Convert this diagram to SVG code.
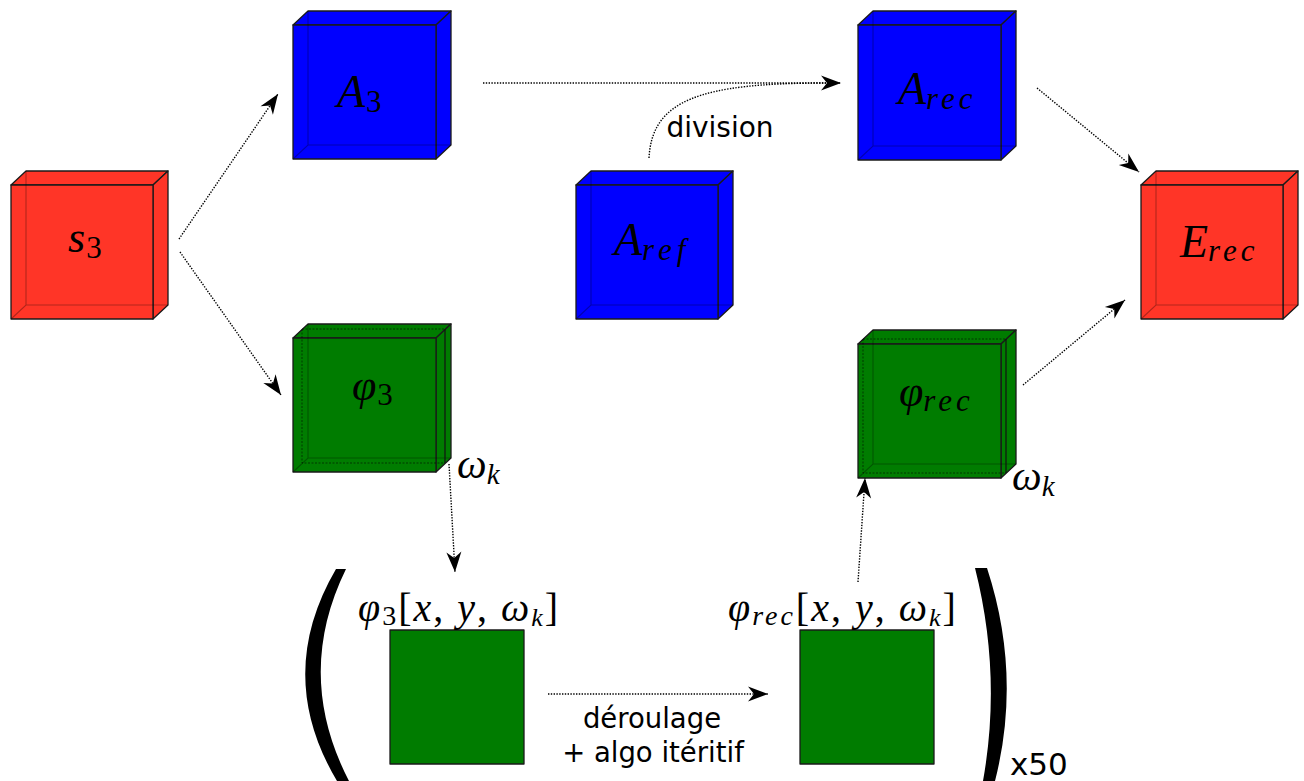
<svg xmlns="http://www.w3.org/2000/svg" width="1304" height="781" viewBox="0 0 1304 781">
<style>
.face{stroke:#1a1a1a;stroke-width:1.3;stroke-linejoin:round}
.red{fill:#ff3527}
.blue{fill:#0000ff}
.green{fill:#007c00}
.hid{fill:none;stroke:#000;stroke-opacity:0.3;stroke-width:1.1}
.mid{fill:none;stroke:#000;stroke-opacity:0.55;stroke-width:1;stroke-dasharray:2 1.5}
.midsolid{fill:none;stroke:#111;stroke-width:1.2}
.math{font-family:"Liberation Serif",serif;font-style:italic;fill:#000}
.rm{font-style:normal}
.sans{font-family:"DejaVu Sans",sans-serif;fill:#000}
.con{fill:none;stroke:#000;stroke-width:1.4;stroke-dasharray:1.4 1.4}
</style>
<defs>
<marker id="ah" markerUnits="userSpaceOnUse" markerWidth="24" markerHeight="20" viewBox="-22 -10 24 20" refX="0" refY="0" orient="auto">
<path d="M0,0 L-20,-7.5 L-14,0 L-20,7.5 Z" fill="#000"/>
</marker>
</defs>

<g id="connectors">
<path class="con" d="M179,239 L278,94" marker-end="url(#ah)"/>
<path class="con" d="M180,252 L281,395" marker-end="url(#ah)"/>
<path class="con" d="M483,83 L841,83" marker-end="url(#ah)"/>
<path class="con" d="M649,158 C652,100 700,83 826,83"/>
<path class="con" d="M1037,88 L1139,172" marker-end="url(#ah)"/>
<path class="con" d="M1023,385 L1125,300" marker-end="url(#ah)"/>
<path class="con" d="M449,464 L455,572" marker-end="url(#ah)"/>
<path class="con" d="M548,694 L768,694" marker-end="url(#ah)"/>
<path class="con" d="M858,582 L865,478" marker-end="url(#ah)"/>
</g>

<g id="s3">
<polygon class="face red" points="11,185 26,171 168,171 153,185"/>
<polygon class="face red" points="153,185 168,171 168,305 153,319"/>
<rect class="face red" x="11" y="185" width="142" height="134"/>
<path class="hid" d="M11,319 L26,305 L168,305 M26,171 L26,305"/>
<text class="math" x="68" y="252" font-size="44">s<tspan class="rm" font-size="31" dy="6" dx="1">3</tspan></text>
</g>

<g id="A3">
<polygon class="face blue" points="293,25 308,11 451,11 436,25"/>
<polygon class="face blue" points="436,25 451,11 451,145 436,159"/>
<rect class="face blue" x="293" y="25" width="143" height="134"/>
<path class="hid" d="M293,159 L308,145 L451,145 M308,11 L308,145"/>
<text class="math" x="337" y="107" font-size="46">A<tspan class="rm" font-size="31" dy="5" dx="1">3</tspan></text>
</g>

<g id="Aref">
<polygon class="face blue" points="576,185 591,171 733,171 718,185"/>
<polygon class="face blue" points="718,185 733,171 733,305 718,319"/>
<rect class="face blue" x="576" y="185" width="142" height="134"/>
<path class="hid" d="M576,319 L591,305 L733,305 M591,171 L591,305"/>
<text class="math" x="614" y="255" font-size="46">A<tspan font-size="31" dy="5" letter-spacing="5">ref</tspan></text>
</g>

<g id="Arec">
<polygon class="face blue" points="858,25 873,11 1016,11 1001,25"/>
<polygon class="face blue" points="1001,25 1016,11 1016,146 1001,160"/>
<rect class="face blue" x="858" y="25" width="143" height="135"/>
<path class="hid" d="M858,160 L873,146 L1016,146 M873,11 L873,146"/>
<text class="math" x="898" y="104" font-size="46">A<tspan font-size="31" dy="5" letter-spacing="4">rec</tspan></text>
</g>

<g id="Erec">
<polygon class="face red" points="1141,185 1156,171 1298,171 1283,185"/>
<polygon class="face red" points="1283,185 1298,171 1298,305 1283,319"/>
<rect class="face red" x="1141" y="185" width="142" height="134"/>
<path class="hid" d="M1141,319 L1156,305 L1298,305 M1156,171 L1156,305"/>
<text class="math" x="1180" y="257" font-size="46">E<tspan font-size="31" dy="4" letter-spacing="4">rec</tspan></text>
</g>

<g id="phi3">
<polygon class="face green" points="293,338 308,324 451,324 436,338"/>
<polygon class="face green" points="436,338 451,324 451,458 436,472"/>
<rect class="face green" x="293" y="338" width="143" height="134"/>
<path class="hid" d="M293,472 L308,458 L451,458 M308,324 L308,458"/>
<path class="mid" d="M302,329 L445,329 M302,329 L302,463 L445,463"/>
<path class="midsolid" d="M445,329 L445,463"/>
<text class="math" x="352" y="400" font-size="44">φ<tspan class="rm" font-size="31" dy="5" dx="1">3</tspan></text>
<text class="math" x="457" y="478" font-size="42">ω<tspan font-size="29" dy="6">k</tspan></text>
</g>

<g id="phirec">
<polygon class="face green" points="858,344 873,330 1016,330 1001,344"/>
<polygon class="face green" points="1001,344 1016,330 1016,464 1001,478"/>
<rect class="face green" x="858" y="344" width="143" height="134"/>
<path class="hid" d="M858,478 L873,464 L1016,464 M873,330 L873,464"/>
<path class="mid" d="M863,339 L1006,339 M863,339 L863,473 L1006,473"/>
<path class="midsolid" d="M1006,339 L1006,473"/>
<text class="math" x="899" y="406" font-size="44">φ<tspan font-size="31" dy="5" letter-spacing="4">rec</tspan></text>
<text class="math" x="1012" y="490" font-size="42">ω<tspan font-size="29" dy="6">k</tspan></text>
</g>

<g id="slice3">
<rect class="face green" x="390" y="630" width="134" height="134"/>
<text class="math" x="358" y="621" font-size="40" letter-spacing="2">φ<tspan class="rm" font-size="28" dy="4">3</tspan><tspan class="rm" dy="-4">[</tspan>x<tspan class="rm">, </tspan>y<tspan class="rm">, </tspan>ω<tspan font-size="26" dy="5">k</tspan><tspan class="rm" dy="-5">]</tspan></text>
</g>

<g id="slicerec">
<rect class="face green" x="800" y="630" width="134" height="134"/>
<text class="math" x="728" y="621" font-size="40" letter-spacing="2">φ<tspan font-size="28" dy="4" letter-spacing="3">rec</tspan><tspan class="rm" dy="-4">[</tspan>x<tspan class="rm">, </tspan>y<tspan class="rm">, </tspan>ω<tspan font-size="26" dy="5">k</tspan><tspan class="rm" dy="-5">]</tspan></text>
</g>

<g id="labels">
<text class="sans" x="720" y="137" font-size="28" text-anchor="middle">division</text>
<text class="sans" x="652" y="728" font-size="27.5" text-anchor="middle">déroulage</text>
<text class="sans" x="653" y="762" font-size="27.5" text-anchor="middle">+ algo itéritif</text>
<text class="sans" x="1010" y="775" font-size="31">x50</text>
</g>

<g id="parens">
<path d="M336,569 Q274,675 337,781 L349,781 Q294,675 346,569 Z" fill="#000"/>
<path d="M975,568 Q1002,675 983,781 L995,781 Q1022,675 987,568 Z" fill="#000"/>
</g>
</svg>
